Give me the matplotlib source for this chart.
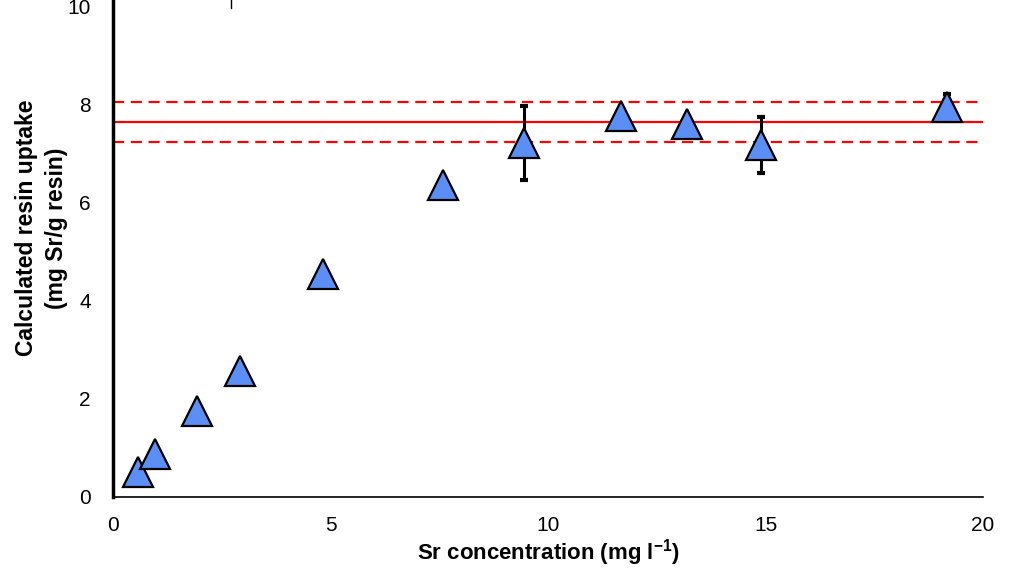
import numpy as np
import matplotlib.pyplot as plt
from matplotlib.lines import Line2D

plt.rcParams['font.family'] = ['Liberation Sans', 'DejaVu Sans']

# data
sr_conc = [0.57, 0.97, 1.93, 2.92, 4.83, 7.59, 9.45, 11.68, 13.2, 14.9, 19.17]
uptake = [0.51, 0.88, 1.75, 2.58, 4.55, 6.36, 7.22, 7.77, 7.62, 7.19, 7.96]
uptake_err = [0, 0, 0, 0, 0, 0, 0.75, 0, 0, 0.57, 0.27]
mean_uptake = 7.65
band = [8.06, 7.24]
x_ticks = [0, 5, 10, 15, 20]
y_ticks = [0, 2, 4, 6, 8, 10]

fig = plt.figure(figsize=(10.1, 5.7), dpi=100)
ax = fig.add_axes([113 / 1010, 73 / 570, 870 / 1010, 497 / 570])

ax.axhline(mean_uptake, color='red', lw=1.6, zorder=1)
for b in band:
    ax.axhline(b, color='red', lw=1.6, ls=(0, (5, 3)), zorder=1)

x = np.array(sr_conc)
y = np.array(uptake)
e = np.array(uptake_err)
m = e > 0
ax.errorbar(x[m], y[m], yerr=e[m], fmt='none', ecolor='black', elinewidth=2.2,
            capsize=3, capthick=3, zorder=2)
ax.plot(x, y, ls='none', marker='^', markersize=21, markerfacecolor='#5B8FF5',
        markeredgecolor='black', markeredgewidth=1.6, zorder=3)

ax.set_xlim(0, 20)
ax.set_ylim(0, 10.14)
ax.set_xticks(x_ticks)
ax.set_yticks(y_ticks)
ax.tick_params(length=0, labelsize=15)
ax.tick_params(axis='x', pad=14)
ax.tick_params(axis='y', pad=16)

for s in ['top', 'right']:
    ax.spines[s].set_visible(False)
ax.spines['left'].set_linewidth(2.5)
ax.spines['bottom'].set_linewidth(1.2)

ax.set_xlabel('Sr concentration (mg l$\\mathregular{^{-1}}$)', fontsize=16,
              fontweight='bold', labelpad=1)
ax.set_ylabel('Calculated resin uptake\n(mg Sr/g resin)', fontsize=16.5,
              fontweight='bold', linespacing=1.4)
ax.yaxis.set_label_coords(-0.052, 0.541)

fig.add_artist(Line2D([231 / 1010, 231 / 1010], [1, 1 - 8 / 570], color='black', lw=1))

fig.savefig('out.png', dpi=100)
